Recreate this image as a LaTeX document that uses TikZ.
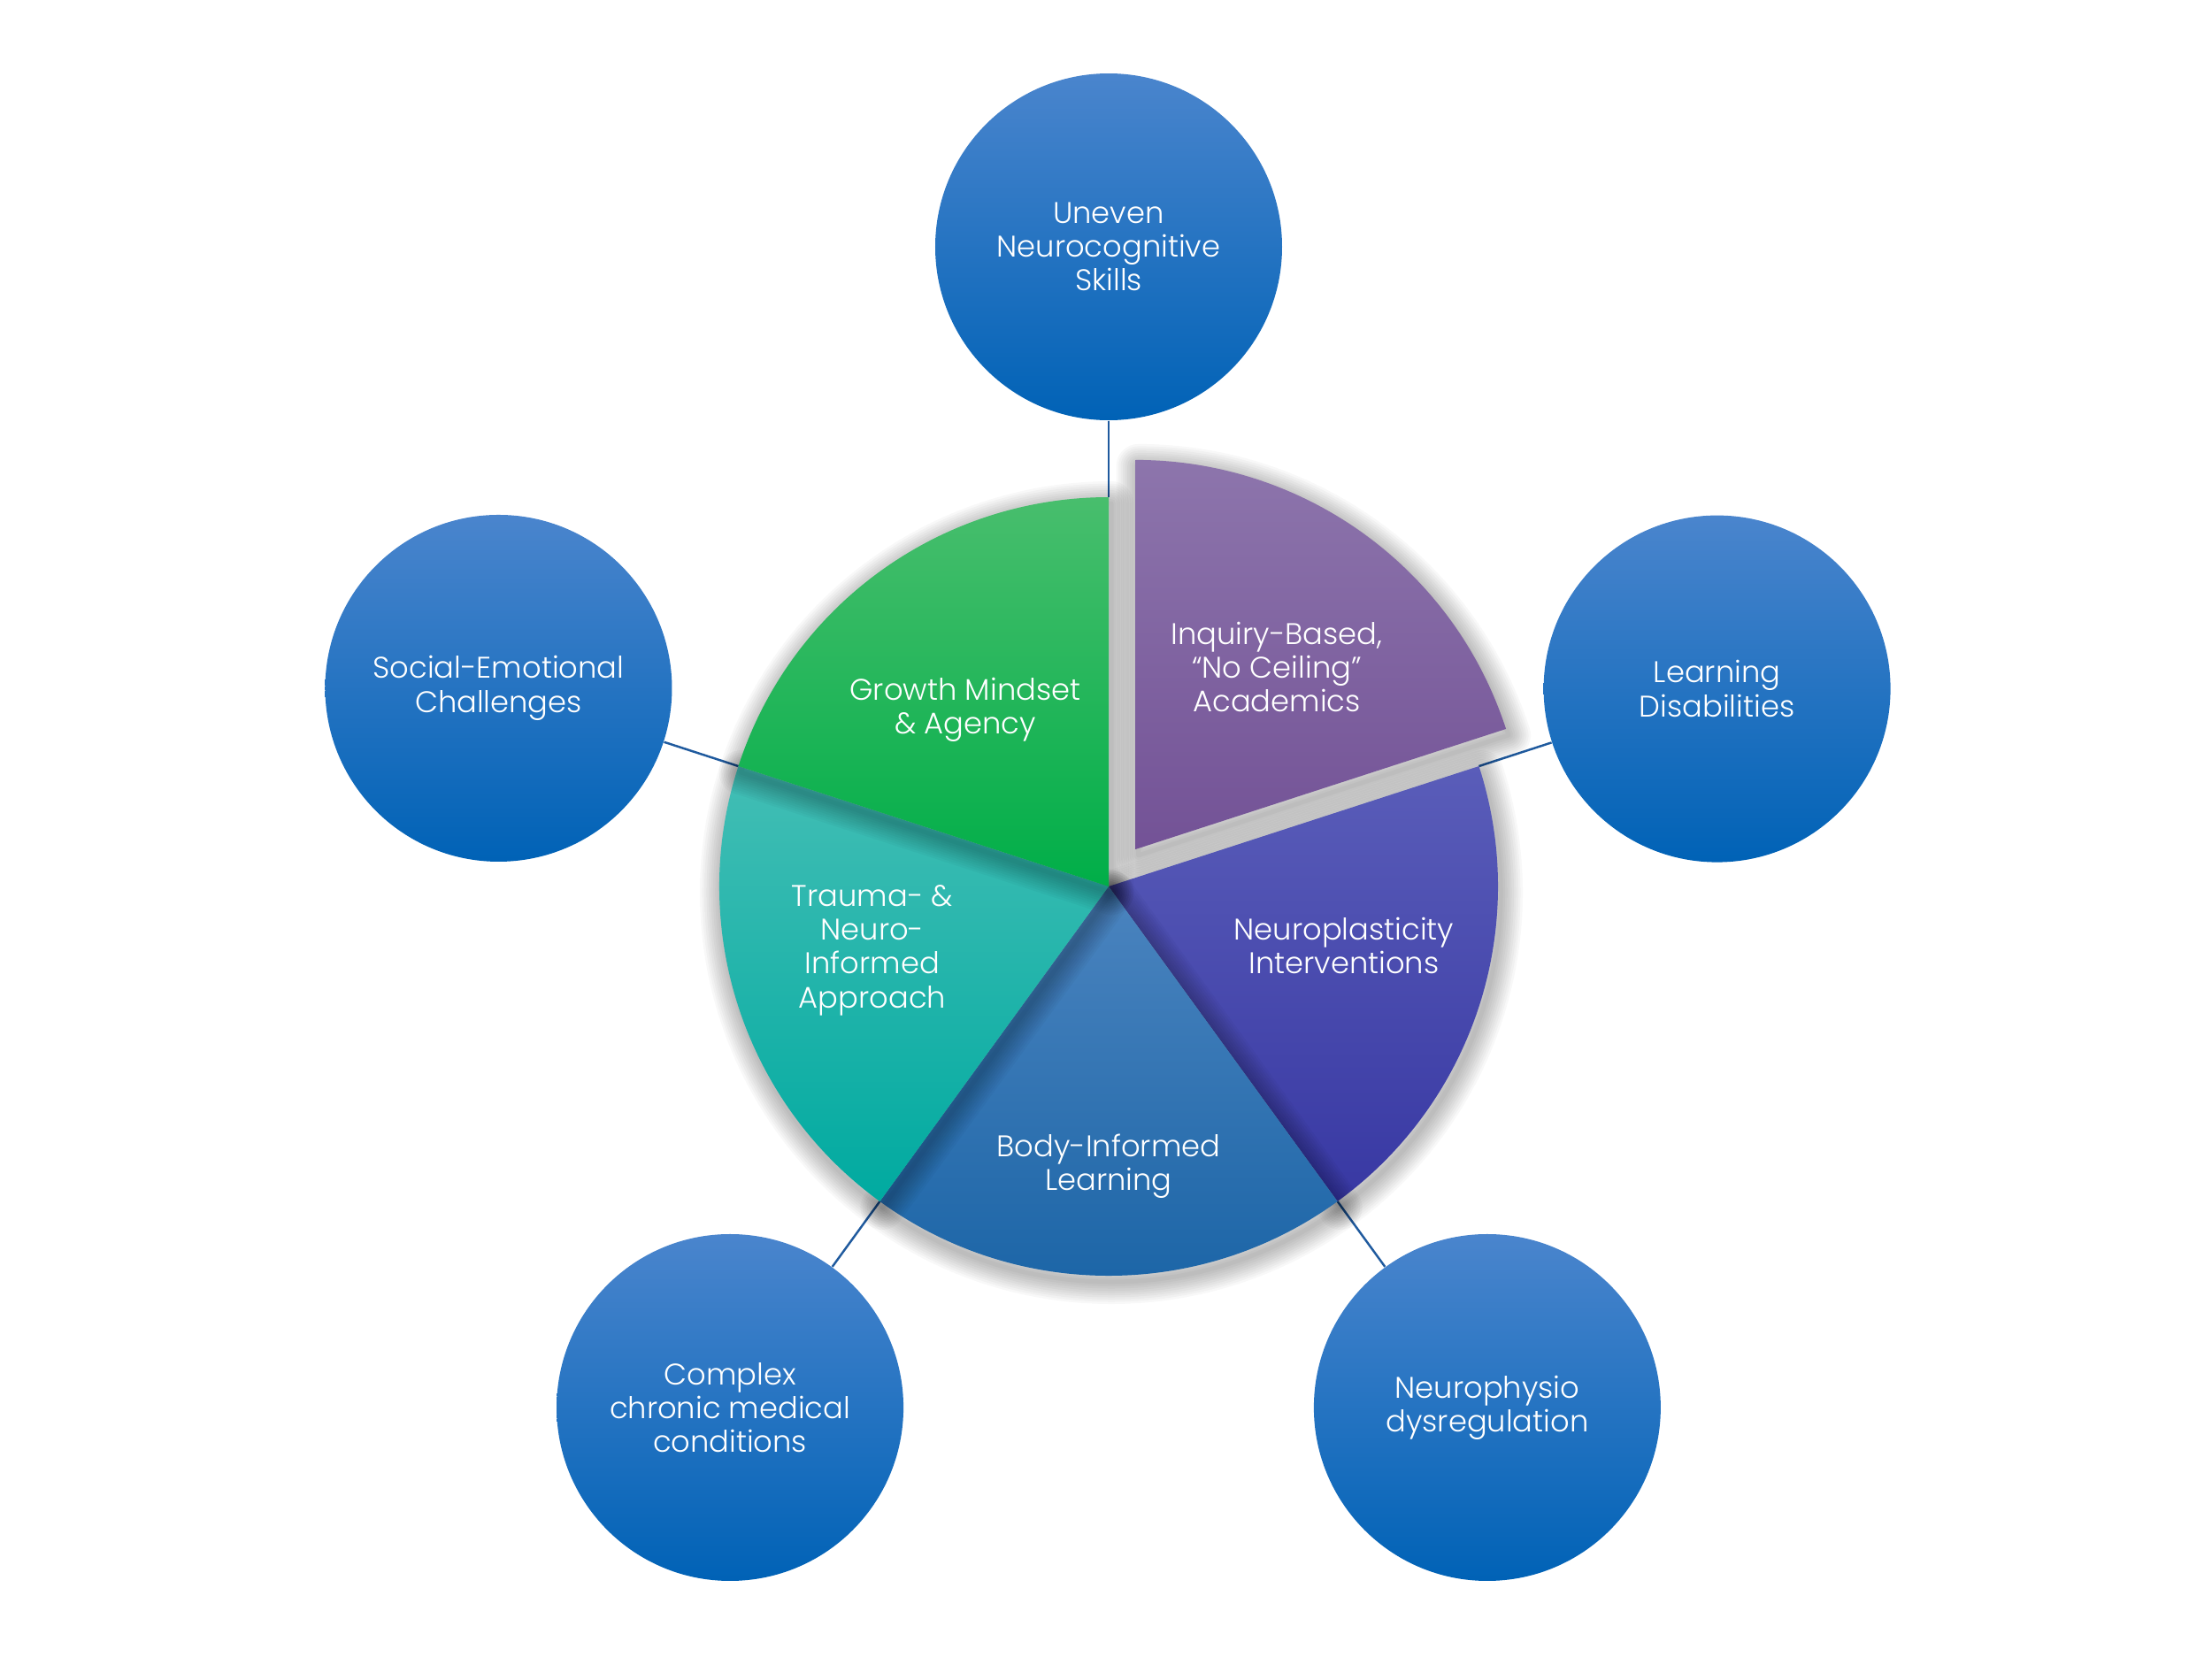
\documentclass[tikz,border=0pt]{standalone}
\usepackage{fontspec}
\IfFontExistsTF{Poppins Light}{\setmainfont{Poppins Light}}{\setmainfont{Poppins}}
\usepackage{tikz}
\usetikzlibrary{calc}
\definecolor{bubtop}{HTML}{4A85CD}
\definecolor{bubmid}{HTML}{0070C6}
\definecolor{bubbot}{HTML}{0062B6}
\definecolor{linkblue}{HTML}{1F5A9E}
\definecolor{inqtop}{HTML}{8D75AC}
\definecolor{inqbot}{HTML}{735296}
\definecolor{plastop}{HTML}{5A5DB9}
\definecolor{plasbot}{HTML}{3838A3}
\definecolor{bodytop}{HTML}{4B84BF}
\definecolor{bodybot}{HTML}{1A64A6}
\definecolor{tealtop}{HTML}{43BEB5}
\definecolor{tealbot}{HTML}{00AAA0}
\definecolor{greentop}{HTML}{48BE6D}
\definecolor{greenbot}{HTML}{00AE48}
\tikzset{
  font=\fontsize{9.6}{10.9}\selectfont,
  bubble/.style={circle,minimum size=3.92cm,inner sep=0pt,align=center,text=white,
    top color=bubtop,middle color=bubmid,bottom color=bubbot},
  link/.style={draw=linkblue,line width=0.7pt},
  slicetext/.style={text=white,align=center},
  softshade/.style={draw=black,opacity=0.028,line join=round}
}
\begin{document}
\begin{tikzpicture}
\fill[white] (-12.53,-8.70) rectangle (12.47,10.02);
\useasboundingbox (-12.53,-8.70) rectangle (12.47,10.02);

% outer bubbles
\node[bubble] (skills) at (90:7.23) {Uneven\\Neurocognitive\\Skills};
\node[bubble] (ld) at (18:7.23) {Learning\\Disabilities};
\node[bubble] (sel) at (162:7.25) {Social-Emotional\\Challenges};
\node[bubble] (med) at (-126:7.28) {Complex\\chronic medical\\conditions};
\node[bubble] (dys) at (-54:7.28) {Neurophysio\\dysregulation};

% pie rim points
\foreach \ang/\nm in {90/e90,18/e18,162/e162,-126/e234,-54/e306}
  \coordinate (\nm) at (\ang:4.4);
\draw[link] (skills) -- (e90);
\draw[link] (ld) -- (e18);
\draw[link] (sel) -- (e162);
\draw[link] (med) -- (e234);
\draw[link] (dys) -- (e306);

% slices, each with a soft shadow
\foreach \a/\b/\dx/\dy/\ct/\cb in {18/90/0.306/0.421/inqtop/inqbot,-54/18/0/0/plastop/plasbot,-126/-54/0/0/bodytop/bodybot,162/234/0/0/tealtop/tealbot,90/162/0/0/greentop/greenbot}{
  \begin{scope}[shift={(\dx,\dy)}]
    \foreach \w in {0.50,0.45,0.40,0.35,0.30,0.25,0.20,0.15,0.10,0.05}
      \draw[softshade,line width=\w cm] (0.03,-0.07) -- ++(\a:4.4) arc[start angle=\a,end angle=\b,radius=4.4] -- cycle;
    \path[top color=\ct,bottom color=\cb] (0,0) -- (\a:4.4) arc[start angle=\a,end angle=\b,radius=4.4] -- cycle;
  \end{scope}
}

% slice labels
\node[slicetext] (inq) at (1.90,2.48) {Inquiry-Based,\\“No Ceiling”\\Academics};
\node[slicetext] (grow) at (-1.62,2.00) {Growth Mindset\\\& Agency};
\node[slicetext] (trauma) at (-2.67,-0.72) {Trauma- \&\\Neuro-\\Informed\\Approach};
\node[slicetext] (body) at (0,-3.16) {Body-Informed\\Learning};
\node[slicetext] (plas) at (2.66,-0.67) {Neuroplasticity\\Interventions};
\end{tikzpicture}
\end{document}
